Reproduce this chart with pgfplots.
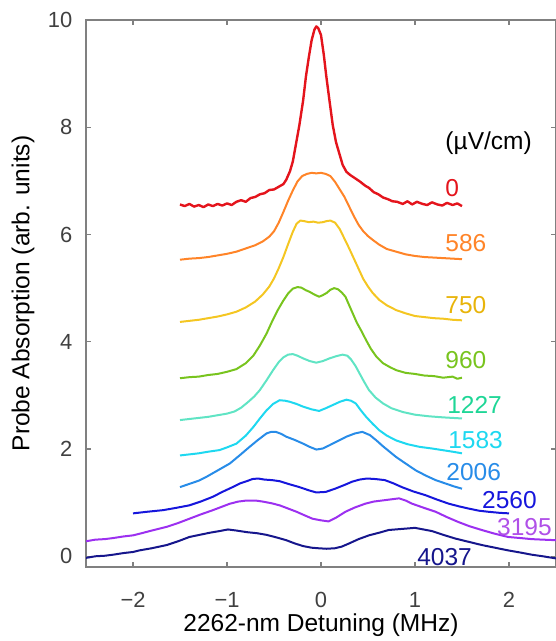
\documentclass[border=0pt]{standalone}
\usepackage{fontspec}
\setmainfont{Liberation Sans}
\usepackage{pgfplots}
\pgfplotsset{compat=1.18}

\definecolor{axgray}{RGB}{128,128,128}
\definecolor{tickgray}{RGB}{64,64,64}
\definecolor{c0}{RGB}{228,20,28}
\definecolor{c586}{RGB}{255,132,40}
\definecolor{c750}{RGB}{244,198,34}
\definecolor{t750}{RGB}{232,180,10}
\definecolor{c960}{RGB}{120,196,30}
\definecolor{c1227}{RGB}{96,228,196}
\definecolor{t1227}{RGB}{30,214,150}
\definecolor{c1583}{RGB}{30,216,240}
\definecolor{c2006}{RGB}{40,140,232}
\definecolor{c2560}{RGB}{22,22,220}
\definecolor{c3195}{RGB}{156,48,240}
\definecolor{t3195}{RGB}{176,80,232}
\definecolor{c4037}{RGB}{22,22,140}

\begin{document}
\begin{tikzpicture}
\begin{axis}[
    width=235bp, height=273.5bp, scale only axis,
    xmin=-2.5, xmax=2.5, ymin=-0.2, ymax=10,
    xtick={-2,-1,0,1,2}, xticklabels={−2,−1,0,1,2},
    ytick={0,2,4,6,8,10},
    tick align=inside, major tick length=2.5bp,
    axis line style={axgray, line width=0.6bp},
    tick style={axgray, line width=0.6bp},
    ticklabel style={font=\fontsize{11}{13}\selectfont, text=tickgray},
    /pgf/number format/assume math mode=true,
    xticklabel style={inner sep=0pt, yshift=-12.5bp},
    yticklabel style={xshift=-3.3bp},
    xlabel={2262-nm Detuning (MHz)},
    ylabel={Probe Absorption (arb. units)},
    every axis x label/.style={at={(axis description cs:0.5,0)}, anchor=center, inner sep=0pt, yshift=-29.3bp, font=\fontsize{12.3}{14}\selectfont},
    every axis y label/.style={at={(axis description cs:0,0.5)}, rotate=90, anchor=center, yshift=31.5bp, font=\fontsize{12.3}{14}\selectfont},
    clip mode=individual,
    every axis plot/.append style={line width=1bp, line join=round},
]
% 0 uV/cm
\addplot[c0, line width=1.2bp] coordinates {
(-1.50,6.56) (-1.45,6.53) (-1.40,6.57) (-1.35,6.52) (-1.30,6.55) (-1.25,6.51) (-1.20,6.56) (-1.15,6.53)
(-1.10,6.57) (-1.05,6.54) (-1.00,6.58) (-0.95,6.55) (-0.90,6.61) (-0.85,6.64) (-0.80,6.61) (-0.75,6.68)
(-0.70,6.70) (-0.65,6.75) (-0.60,6.77) (-0.55,6.83) (-0.50,6.84) (-0.45,6.89) (-0.40,6.94) (-0.37,7.02)
(-0.33,7.18) (-0.30,7.36) (-0.27,7.65) (-0.23,8.04) (-0.19,8.50) (-0.16,8.95) (-0.13,9.30) (-0.10,9.62)
(-0.07,9.82) (-0.05,9.88) (-0.03,9.85) (0.00,9.72) (0.03,9.35) (0.055,8.97) (0.09,8.50) (0.125,8.04)
(0.16,7.72) (0.20,7.48) (0.23,7.30) (0.27,7.17) (0.31,7.11) (0.37,7.04) (0.42,6.98) (0.47,6.91)
(0.51,6.87) (0.56,6.79) (0.61,6.75) (0.66,6.69) (0.71,6.66) (0.76,6.62) (0.81,6.61) (0.87,6.57)
(0.92,6.62) (0.97,6.56) (1.02,6.61) (1.08,6.57) (1.13,6.55) (1.18,6.60) (1.24,6.56) (1.29,6.54)
(1.34,6.59) (1.40,6.55) (1.45,6.58) (1.50,6.53)
};
% 586
\addplot[c586] coordinates {
(-1.50,5.53) (-1.40,5.55) (-1.30,5.56) (-1.20,5.58) (-1.10,5.61) (-1.00,5.64) (-0.90,5.68) (-0.80,5.74)
(-0.70,5.80) (-0.62,5.87) (-0.55,5.96) (-0.50,6.06) (-0.45,6.22) (-0.40,6.42) (-0.35,6.63) (-0.30,6.82)
(-0.25,6.99) (-0.20,7.09) (-0.15,7.13) (-0.10,7.15) (-0.05,7.14) (0.00,7.15) (0.05,7.13) (0.10,7.09)
(0.15,6.98) (0.20,6.84) (0.25,6.70) (0.30,6.52) (0.35,6.34) (0.40,6.18) (0.45,6.06) (0.50,5.97)
(0.55,5.90) (0.62,5.81) (0.70,5.73) (0.80,5.68) (0.90,5.63) (1.00,5.60) (1.10,5.58) (1.20,5.57)
(1.30,5.56) (1.40,5.55) (1.50,5.54)
};
% 750
\addplot[c750] coordinates {
(-1.50,4.37) (-1.40,4.39) (-1.30,4.41) (-1.20,4.44) (-1.10,4.47) (-1.00,4.51) (-0.90,4.56) (-0.80,4.64)
(-0.70,4.75) (-0.62,4.88) (-0.55,5.03) (-0.50,5.18) (-0.45,5.37) (-0.40,5.58) (-0.35,5.82) (-0.30,6.05)
(-0.26,6.20) (-0.22,6.26) (-0.18,6.25) (-0.13,6.23) (-0.08,6.24) (-0.03,6.22) (0.02,6.23) (0.06,6.25)
(0.10,6.26) (0.15,6.22) (0.20,6.10) (0.25,5.92) (0.30,5.74) (0.35,5.55) (0.40,5.36) (0.45,5.17)
(0.50,5.03) (0.55,4.91) (0.62,4.78) (0.70,4.68) (0.80,4.59) (0.90,4.53) (1.00,4.48) (1.10,4.46)
(1.20,4.44) (1.30,4.43) (1.40,4.41) (1.50,4.40)
};
% 960
\addplot[c960] coordinates {
(-1.50,3.32) (-1.40,3.34) (-1.30,3.35) (-1.20,3.38) (-1.10,3.40) (-1.00,3.44) (-0.90,3.49) (-0.80,3.60)
(-0.72,3.74) (-0.65,3.93) (-0.58,4.15) (-0.52,4.38) (-0.46,4.59) (-0.40,4.77) (-0.35,4.90) (-0.30,4.99)
(-0.25,5.02) (-0.21,5.01) (-0.16,4.96) (-0.12,4.93) (-0.07,4.88) (-0.02,4.84) (0.02,4.87) (0.06,4.91)
(0.10,4.97) (0.14,5.00) (0.18,4.98) (0.22,4.92) (0.26,4.84) (0.30,4.68) (0.34,4.52) (0.38,4.36)
(0.43,4.20) (0.48,4.03) (0.53,3.87) (0.59,3.72) (0.66,3.60) (0.73,3.53) (0.80,3.47) (0.90,3.42)
(1.00,3.40) (1.10,3.37) (1.20,3.36) (1.30,3.33) (1.40,3.35) (1.45,3.31) (1.50,3.33)
};
% 1227
\addplot[c1227] coordinates {
(-1.50,2.54) (-1.40,2.56) (-1.30,2.58) (-1.20,2.60) (-1.10,2.63) (-1.00,2.66) (-0.92,2.70) (-0.85,2.77)
(-0.78,2.87) (-0.71,2.98) (-0.65,3.10) (-0.58,3.28) (-0.51,3.47) (-0.45,3.62) (-0.40,3.71) (-0.35,3.76)
(-0.30,3.77) (-0.25,3.74) (-0.19,3.69) (-0.12,3.64) (-0.05,3.61) (0.02,3.64) (0.09,3.69) (0.16,3.73)
(0.23,3.76) (0.28,3.74) (0.32,3.67) (0.37,3.54) (0.41,3.41) (0.46,3.25) (0.51,3.10) (0.58,2.96)
(0.66,2.85) (0.75,2.76) (0.87,2.69) (1.00,2.64) (1.15,2.61) (1.30,2.59) (1.40,2.58) (1.50,2.57)
};
% 1583
\addplot[c1583] coordinates {
(-1.50,1.88) (-1.40,1.90) (-1.30,1.92) (-1.20,1.95) (-1.08,1.98) (-1.00,2.03) (-0.90,2.10) (-0.80,2.25)
(-0.72,2.41) (-0.65,2.57) (-0.58,2.72) (-0.51,2.84) (-0.44,2.91) (-0.38,2.90) (-0.33,2.88) (-0.26,2.84)
(-0.19,2.79) (-0.10,2.74) (-0.02,2.71) (0.05,2.76) (0.125,2.82) (0.20,2.88) (0.27,2.92) (0.32,2.90)
(0.37,2.85) (0.42,2.73) (0.48,2.60) (0.55,2.47) (0.62,2.35) (0.70,2.25) (0.80,2.16) (0.92,2.09)
(1.05,2.04) (1.18,2.01) (1.29,1.98) (1.40,1.95) (1.50,1.92)
};
% 2006
\addplot[c2006] coordinates {
(-1.50,1.29) (-1.40,1.35) (-1.30,1.41) (-1.22,1.48) (-1.10,1.60) (-0.97,1.73) (-0.86,1.89) (-0.76,2.04)
(-0.67,2.17) (-0.58,2.29) (-0.53,2.32) (-0.48,2.32) (-0.42,2.28) (-0.37,2.23) (-0.28,2.17) (-0.19,2.10)
(-0.12,2.04) (-0.05,1.99) (0.02,2.01) (0.09,2.07) (0.18,2.15) (0.27,2.23) (0.36,2.29) (0.44,2.32)
(0.52,2.26) (0.59,2.16) (0.66,2.05) (0.73,1.95) (0.80,1.85) (0.90,1.73) (1.01,1.60) (1.12,1.50)
(1.22,1.42) (1.32,1.36) (1.42,1.30) (1.50,1.26)
};
% 2560
\addplot[c2560] coordinates {
(-2.00,0.80) (-1.85,0.83) (-1.68,0.86) (-1.55,0.90) (-1.40,0.95) (-1.28,1.02) (-1.15,1.11) (-1.05,1.20)
(-0.94,1.29) (-0.86,1.36) (-0.79,1.40) (-0.73,1.44) (-0.67,1.45) (-0.60,1.43) (-0.52,1.42) (-0.44,1.40)
(-0.33,1.34) (-0.23,1.29) (-0.13,1.23) (-0.05,1.19) (0.05,1.20) (0.15,1.26) (0.25,1.33) (0.33,1.39)
(0.41,1.43) (0.49,1.45) (0.58,1.44) (0.68,1.42) (0.77,1.36) (0.86,1.29) (0.98,1.21) (1.11,1.14)
(1.23,1.06) (1.36,0.98) (1.47,0.93) (1.57,0.89) (1.68,0.85) (1.78,0.83) (1.90,0.81) (2.00,0.80)
};
% 3195
\addplot[c3195] coordinates {
(-2.50,0.28) (-2.40,0.31) (-2.30,0.32) (-2.21,0.34) (-2.10,0.37) (-2.00,0.39) (-1.93,0.42) (-1.80,0.48)
(-1.64,0.55) (-1.52,0.62) (-1.40,0.70) (-1.28,0.78) (-1.15,0.86) (-1.06,0.92) (-0.97,0.98) (-0.88,1.02)
(-0.79,1.04) (-0.70,1.04) (-0.62,1.02) (-0.53,0.99) (-0.44,0.95) (-0.35,0.89) (-0.26,0.83) (-0.17,0.76)
(-0.09,0.70) (0.00,0.67) (0.08,0.65) (0.16,0.72) (0.26,0.83) (0.36,0.91) (0.47,0.98) (0.56,1.02)
(0.65,1.04) (0.74,1.06) (0.83,1.08) (0.90,1.04) (0.97,0.98) (1.10,0.90) (1.22,0.83) (1.34,0.73)
(1.46,0.64) (1.58,0.56) (1.71,0.49) (1.85,0.42) (1.99,0.36) (2.12,0.34) (2.24,0.32) (2.36,0.31)
(2.50,0.30)
};
% 4037
\addplot[c4037] coordinates {
(-2.50,-0.03) (-2.40,0.00) (-2.30,0.01) (-2.21,0.03) (-2.10,0.06) (-2.00,0.08) (-1.93,0.11) (-1.80,0.15)
(-1.64,0.21) (-1.52,0.28) (-1.40,0.36) (-1.29,0.40) (-1.18,0.44) (-1.08,0.47) (-0.99,0.50) (-0.90,0.48)
(-0.79,0.45) (-0.68,0.43) (-0.58,0.40) (-0.47,0.35) (-0.37,0.30) (-0.28,0.24) (-0.19,0.19) (-0.10,0.16)
(-0.03,0.15) (0.06,0.14) (0.15,0.15) (0.22,0.18) (0.30,0.24) (0.40,0.32) (0.51,0.39) (0.62,0.44)
(0.72,0.49) (0.86,0.51) (1.00,0.53) (1.09,0.50) (1.18,0.47) (1.30,0.40) (1.43,0.33) (1.57,0.27)
(1.71,0.21) (1.85,0.16) (1.99,0.11) (2.12,0.07) (2.24,0.03) (2.36,0.00) (2.50,-0.04)
};
\begin{scope}[every node/.style={anchor=west, inner sep=0pt, font=\fontsize{12.3}{14}\selectfont}]
\node[text=black] at (axis cs:1.32,7.71) {(µV/cm)};
\node[text=c0]    at (axis cs:1.32,6.87) {0};
\node[text=c586]  at (axis cs:1.32,5.84) {586};
\node[text=t750]  at (axis cs:1.32,4.68) {750};
\node[text=c960]  at (axis cs:1.32,3.66) {960};
\node[text=t1227] at (axis cs:1.34,2.82) {1227};
\node[text=c1583] at (axis cs:1.35,2.16) {1583};
\node[text=c2006] at (axis cs:1.33,1.57) {2006};
\node[text=c2560] at (axis cs:1.71,1.04) {2560};
\node[text=t3195] at (axis cs:1.87,0.54) {3195};
\node[text=c4037] at (axis cs:1.02,-0.02) {4037};
\end{scope}
\end{axis}
\pgfresetboundingbox
\path[use as bounding box] ([shift={(-43bp,-37bp)}]current axis.south west) rectangle ([shift={(0bp,10bp)}]current axis.north east);
\end{tikzpicture}
\end{document}
